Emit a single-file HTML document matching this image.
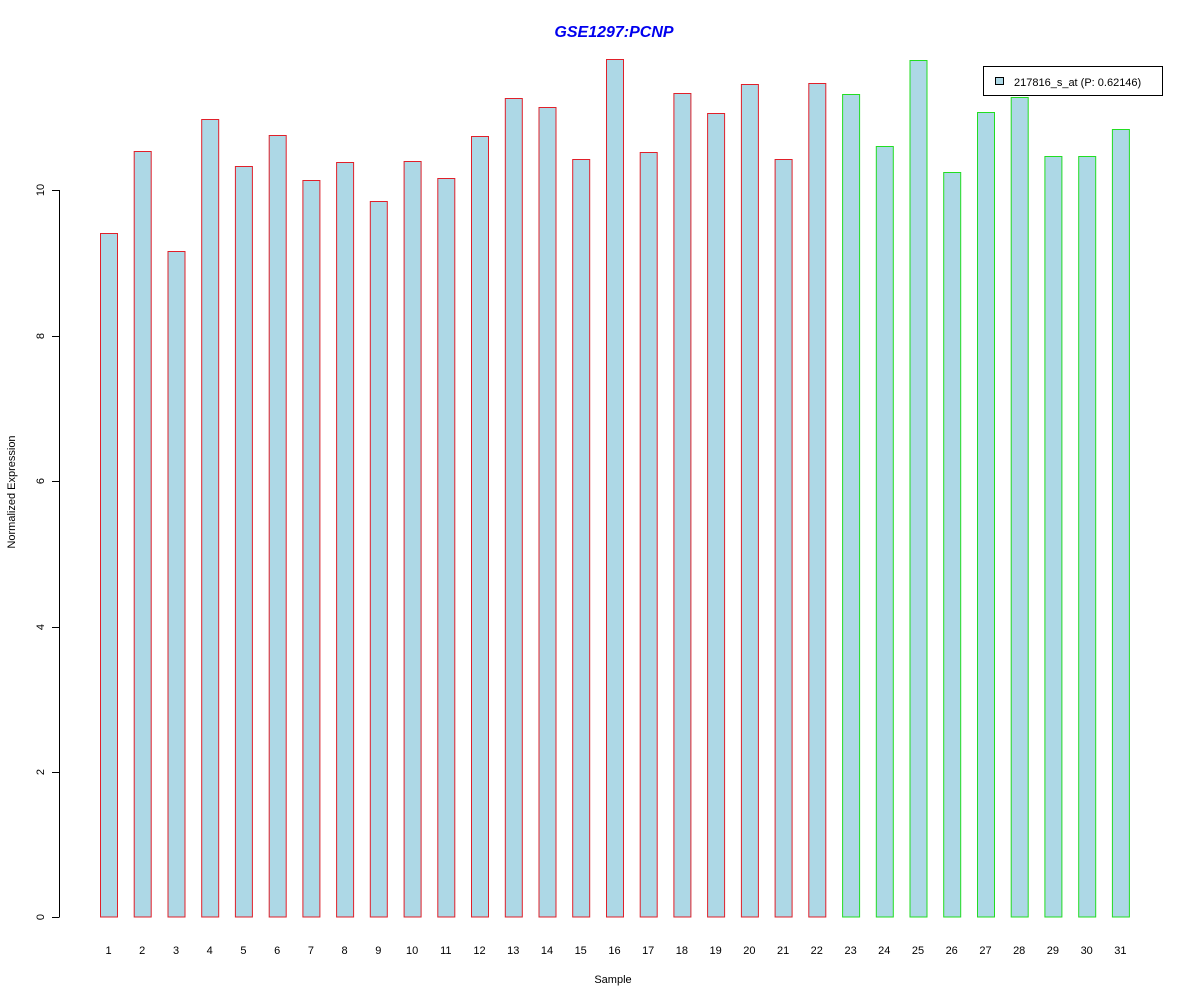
<!DOCTYPE html>
<html><head><meta charset="utf-8"><style>body{margin:0;background:#fff}svg{display:block}</style></head><body>
<svg width="1200" height="1000" xmlns="http://www.w3.org/2000/svg" font-family="Liberation Sans, sans-serif">
<rect width="1200" height="1000" fill="#fff"/>
<text x="614" y="37" text-anchor="middle" font-size="16" font-weight="bold" font-style="italic" fill="#0000ee">GSE1297:PCNP</text>
<g stroke-width="1" fill="#add8e6">
<g stroke="#e0202a">
<rect x="100.5" y="233.5" width="17" height="683.5"/>
<rect x="134.2" y="151.5" width="17" height="765.5"/>
<rect x="168" y="251.5" width="17" height="665.5"/>
<rect x="201.7" y="119.5" width="17" height="797.5"/>
<rect x="235.4" y="166.5" width="17" height="750.5"/>
<rect x="269.2" y="135.5" width="17" height="781.5"/>
<rect x="302.9" y="180.5" width="17" height="736.5"/>
<rect x="336.6" y="162.5" width="17" height="754.5"/>
<rect x="370.3" y="201.5" width="17" height="715.5"/>
<rect x="404.1" y="161.5" width="17" height="755.5"/>
<rect x="437.8" y="178.5" width="17" height="738.5"/>
<rect x="471.5" y="136.5" width="17" height="780.5"/>
<rect x="505.3" y="98.5" width="17" height="818.5"/>
<rect x="539" y="107.5" width="17" height="809.5"/>
<rect x="572.7" y="159.5" width="17" height="757.5"/>
<rect x="606.5" y="59.5" width="17" height="857.5"/>
<rect x="640.2" y="152.5" width="17" height="764.5"/>
<rect x="673.9" y="93.5" width="17" height="823.5"/>
<rect x="707.6" y="113.5" width="17" height="803.5"/>
<rect x="741.4" y="84.5" width="17" height="832.5"/>
<rect x="775.1" y="159.5" width="17" height="757.5"/>
<rect x="808.8" y="83.5" width="17" height="833.5"/>
</g>
<g stroke="#22dd22">
<rect x="842.6" y="94.5" width="17" height="822.5"/>
<rect x="876.3" y="146.5" width="17" height="770.5"/>
<rect x="910" y="60.5" width="17" height="856.5"/>
<rect x="943.7" y="172.5" width="17" height="744.5"/>
<rect x="977.5" y="112.5" width="17" height="804.5"/>
<rect x="1011.2" y="97.5" width="17" height="819.5"/>
<rect x="1044.9" y="156.5" width="17" height="760.5"/>
<rect x="1078.7" y="156.5" width="17" height="760.5"/>
<rect x="1112.4" y="129.5" width="17" height="787.5"/>
</g>
</g>
<g stroke="#000" stroke-width="1">
<line x1="59.5" y1="190" x2="59.5" y2="917"/>
<line x1="52" y1="917.5" x2="59.5" y2="917.5"/>
<line x1="52" y1="772.5" x2="59.5" y2="772.5"/>
<line x1="52" y1="627.5" x2="59.5" y2="627.5"/>
<line x1="52" y1="481.5" x2="59.5" y2="481.5"/>
<line x1="52" y1="336.5" x2="59.5" y2="336.5"/>
<line x1="52" y1="190.5" x2="59.5" y2="190.5"/>
</g>
<g font-size="11" text-anchor="middle" fill="#000">
<text transform="translate(44,917) rotate(-90)">0</text>
<text transform="translate(44,772) rotate(-90)">2</text>
<text transform="translate(44,627) rotate(-90)">4</text>
<text transform="translate(44,481) rotate(-90)">6</text>
<text transform="translate(44,336) rotate(-90)">8</text>
<text transform="translate(44,190) rotate(-90)">10</text>
<text transform="translate(15,492) rotate(-90)">Normalized Expression</text>
<text x="613" y="983">Sample</text>
</g>
<g font-size="11" text-anchor="middle" fill="#000">
<text x="108.5" y="954">1</text><text x="142.2" y="954">2</text><text x="176" y="954">3</text><text x="209.7" y="954">4</text><text x="243.4" y="954">5</text><text x="277.2" y="954">6</text><text x="310.9" y="954">7</text><text x="344.6" y="954">8</text><text x="378.3" y="954">9</text><text x="412.1" y="954">10</text><text x="445.8" y="954">11</text><text x="479.5" y="954">12</text><text x="513.3" y="954">13</text><text x="547" y="954">14</text><text x="580.7" y="954">15</text><text x="614.5" y="954">16</text><text x="648.2" y="954">17</text><text x="681.9" y="954">18</text><text x="715.6" y="954">19</text><text x="749.4" y="954">20</text><text x="783.1" y="954">21</text><text x="816.8" y="954">22</text><text x="850.6" y="954">23</text><text x="884.3" y="954">24</text><text x="918" y="954">25</text><text x="951.7" y="954">26</text><text x="985.5" y="954">27</text><text x="1019.2" y="954">28</text><text x="1052.9" y="954">29</text><text x="1086.7" y="954">30</text><text x="1120.4" y="954">31</text>
</g>
<rect x="983.5" y="66.5" width="179" height="29" fill="#fff" stroke="#000"/>
<rect x="995.5" y="77.5" width="8" height="7" fill="#add8e6" stroke="#000"/>
<text x="1014" y="86" font-size="11" fill="#000">217816_s_at (P: 0.62146)</text>
</svg>
</body></html>
